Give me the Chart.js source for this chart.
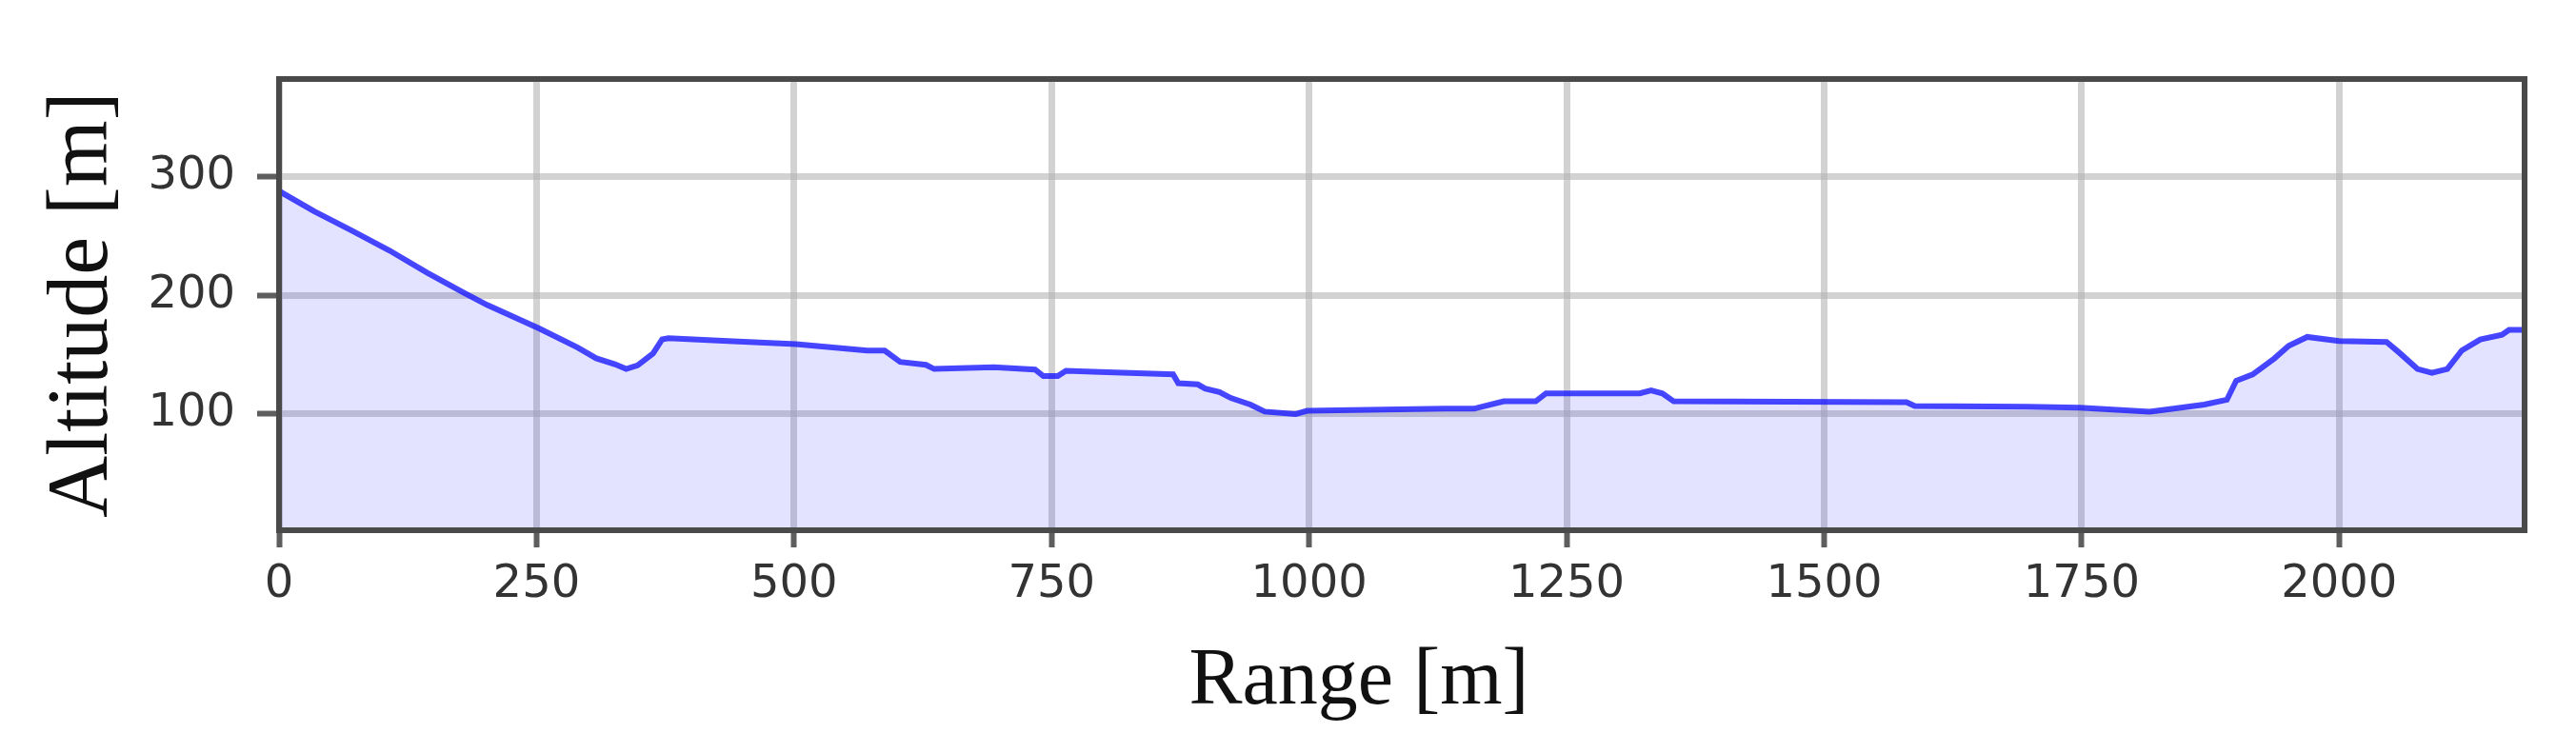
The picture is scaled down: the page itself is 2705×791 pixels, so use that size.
<!DOCTYPE html>
<html>
<head>
<meta charset="utf-8">
<script src="https://cdn.jsdelivr.net/npm/chart.js@4/dist/chart.umd.min.js"></script>
<style>
  html, body { margin: 0; padding: 0; background: #ffffff; }
  #wrap { width: 2705px; height: 791px; }
</style>
</head>
<body>
<div id="wrap"><canvas id="c" width="2705" height="791"></canvas></div>
<script>
// ---- data ----
const rangeValues = [0, 34, 70, 107, 144, 180, 202, 253, 290, 308, 326, 337, 348, 363, 372, 378,
  436, 502, 571, 588, 603, 628, 636, 694, 734, 742, 756, 764, 797, 868, 873, 892, 899, 913, 924,
  943, 957, 987, 998, 1132, 1160, 1189, 1220, 1230, 1321, 1332, 1343, 1354, 1580, 1588, 1697,
  1748, 1816, 1834, 1869, 1891, 1900, 1916, 1937, 1951, 1969, 2000, 2046, 2058, 2076, 2090,
  2105, 2119, 2137, 2158, 2165, 2180];
const altitudeValues = [288, 271, 255, 238, 219, 202, 192, 172, 156, 147, 142, 138, 141, 151, 163, 164,
  161.5, 159, 153.5, 153.5, 144, 141.5, 138, 139.5, 137.5, 132, 132, 136.5, 135.5, 133.5, 126, 125, 121.5, 118.5, 113.5,
  108, 102, 100, 102.7, 104.5, 104.5, 110.7, 110.7, 117.4, 117.4, 120, 117.4, 110.7, 110, 106.7, 106.1,
  105.3, 102, 104, 108, 112, 128, 133.4, 146.8, 157.5, 165, 161.5, 160.7, 152, 138, 134.8,
  138, 153.5, 162.8, 166.8, 171, 171];
const xTickValues = [0, 250, 500, 750, 1000, 1250, 1500, 1750, 2000];
const yTickValues = [100, 200, 300];
const xLimits = [0, 2180];
const yLimits = [2, 382.5];
const xTitle = 'Range [m]';
const yTitle = 'Altitude [m]';

const points = rangeValues.map((r, i) => ({ x: r, y: altitudeValues[i] }));

const frame = {
  id: 'frame',
  afterDatasetsDraw(chart) {
    const { ctx, chartArea: a } = chart;
    ctx.save();
    ctx.strokeStyle = '#4a4a4a';
    ctx.lineWidth = 6;
    ctx.strokeRect(a.left, a.top, a.right - a.left, a.bottom - a.top);
    ctx.restore();
  }
};

// x-axis title, drawn slightly left of the axis centre as in the reference
const xTitlePlugin = {
  id: 'xTitlePlugin',
  afterDraw(chart) {
    const { ctx, chartArea: a } = chart;
    ctx.save();
    ctx.font = '84px "Liberation Serif"';
    ctx.fillStyle = '#111111';
    ctx.textAlign = 'center';
    ctx.textBaseline = 'middle';
    ctx.fillText(xTitle, (a.left + a.right) / 2 - 45, a.bottom + 160);
    ctx.restore();
  }
};

new Chart(document.getElementById('c'), {
  type: 'line',
  data: {
    datasets: [{
      data: points,
      borderColor: 'rgba(25,25,255,0.8)',
      backgroundColor: 'rgba(0,0,255,0.11)',
      borderWidth: 6,
      pointRadius: 0,
      tension: 0,
      fill: 'start'
    }]
  },
  options: {
    responsive: false,
    devicePixelRatio: 1,
    animation: false,
    layout: { padding: { top: 83, right: 54, bottom: 0, left: 0 } },
    plugins: { legend: { display: false }, tooltip: { enabled: false } },
    scales: {
      x: {
        type: 'linear',
        min: xLimits[0], max: xLimits[1],
        afterBuildTicks(s) { s.ticks = xTickValues.map(v => ({ value: v })); },
        afterFit(s) { s.height = 234; },
        border: { display: false },
        grid: { color: 'rgba(180,180,180,0.6)', lineWidth: 7, tickLength: 18, tickColor: '#5e5e5e', tickWidth: 6 },
        ticks: { font: { family: 'DejaVu Sans', size: 48 }, color: '#333333', padding: 11, maxRotation: 0, autoSkip: false,
                 callback: v => String(v) },
        title: { display: false, text: xTitle }
      },
      y: {
        type: 'linear',
        min: yLimits[0], max: yLimits[1],
        afterBuildTicks(s) { s.ticks = yTickValues.map(v => ({ value: v })); },
        afterFit(s) { s.width = 293; },
        border: { display: false },
        grid: { color: 'rgba(180,180,180,0.6)', lineWidth: 7, tickLength: 23, tickColor: '#5e5e5e', tickWidth: 6 },
        ticks: { font: { family: 'DejaVu Sans', size: 48 }, color: '#333333', padding: 23, autoSkip: false,
                 callback: v => String(v) },
        title: { display: true, text: yTitle, font: { family: 'Liberation Serif', size: 90 }, color: '#111111', padding: { top: 34, bottom: 0 } }
      }
    }
  },
  plugins: [frame, xTitlePlugin]
});
</script>
</body>
</html>
